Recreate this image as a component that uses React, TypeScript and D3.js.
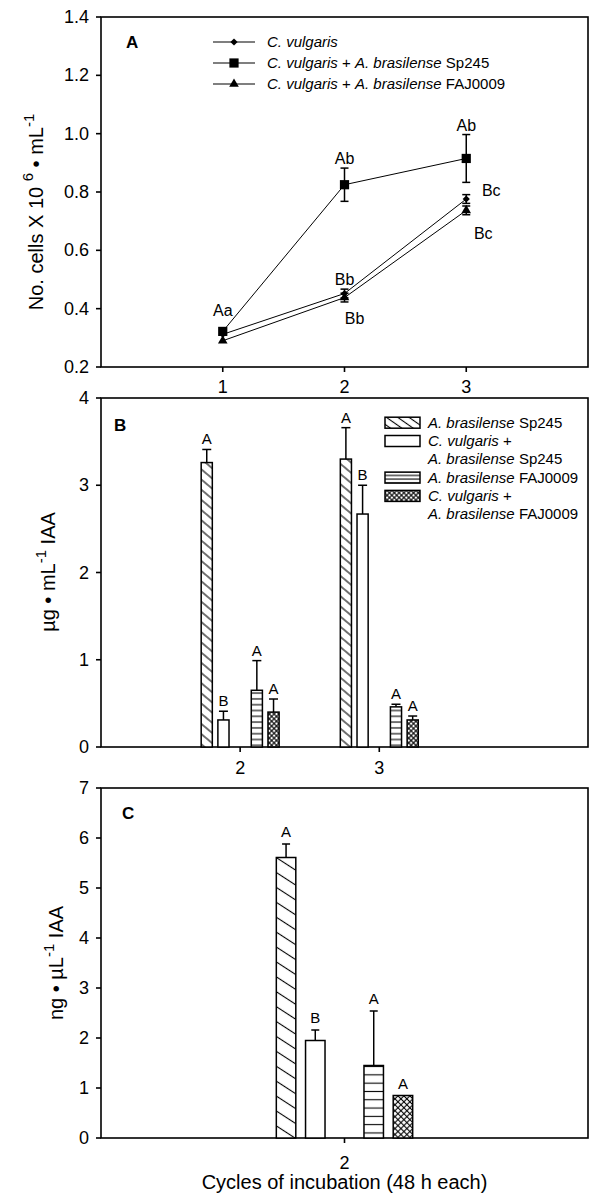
import React from "react";
import * as d3 from "d3";

// ---------- Data ----------
const cyclesA = [1, 2, 3];
const cVulgaris = [0.312, 0.452, 0.776];
const cVulgarisErr = [0.01, 0.015, 0.015];
const cvSp245 = [0.322, 0.825, 0.915];
const cvSp245Err = [0.01, 0.057, 0.082];
const cvFaj = [0.29, 0.438, 0.737];
const cvFajErr = [0.01, 0.015, 0.015];
const legendA = [
  { sp: "C. vulgaris", rest: "" },
  { sp: "C. vulgaris", rest: "Sp245" },
  { sp: "C. vulgaris", rest: "FAJ0009" },
];

const cyclesB = [2, 3];
const spAloneB = [3.26, 3.3];
const spAloneBErr = [0.15, 0.36];
const cvSpB = [0.31, 2.67];
const cvSpBErr = [0.1, 0.33];
const fajAloneB = [0.65, 0.46];
const fajAloneBErr = [0.34, 0.03];
const cvFajB = [0.4, 0.31];
const cvFajBErr = [0.15, 0.045];
const lettersB = [
  ["A", "B", "A", "A"],
  ["A", "B", "A", "A"],
];

const cyclesC = [2];
const valuesC = [5.61, 1.95, 1.45, 0.85];
const errC = [0.27, 0.21, 1.09, 0];
const lettersC = ["A", "B", "A", "A"];

const ticksA = [0.2, 0.4, 0.6, 0.8, 1.0, 1.2, 1.4];
const ticksB = [0, 1, 2, 3, 4];
const ticksC = [0, 1, 2, 3, 4, 5, 6, 7];

const FONT = "'Liberation Sans', Arial, Helvetica, sans-serif";

// ---------- Scales ----------
const L = 101, R = 588;
const xA = d3.scaleLinear().domain([0, 4]).range([L, R]);
const yA = d3.scaleLinear().domain([0.2, 1.4]).range([367, 17]);
const xB = d3.scaleLinear().domain([1, 4.5]).range([L, R]);
const yB = d3.scaleLinear().domain([0, 4]).range([747, 398]);
const xC = d3.scaleLinear().domain([1, 3]).range([L, R]);
const yC = d3.scaleLinear().domain([0, 7]).range([1138, 788]);

const slotOffsets = [-2, -1, 1, 2];
const SLOT = 0.12;
const BARW = 0.08;

const patB = ["diagB", "white", "horizB", "crossB"];
const patC = ["diagC", "white", "horizC", "crossC"];

function Frame({ y, ticks, fmt, xs, xt, tickY }: any) {
  const [y0, y1] = y.range();
  return (
    <g>
      <rect x={L} y={y1} width={R - L} height={y0 - y1} fill="none" stroke="#000" strokeWidth={1.6} />
      {ticks.map((t: number) => (
        <g key={t}>
          <line x1={L - 5} x2={L} y1={y(t)} y2={y(t)} stroke="#000" strokeWidth={1.6} />
          <text x={L - 12} y={y(t) + 6} textAnchor="end" fontSize={18} fontFamily={FONT}>
            {fmt(t)}
          </text>
        </g>
      ))}
      {xt.map((t: number) => (
        <g key={"x" + t}>
          <line x1={xs(t)} x2={xs(t)} y1={y0} y2={y0 + 5} stroke="#000" strokeWidth={1.6} />
          <text x={xs(t)} y={y0 + tickY} textAnchor="middle" fontSize={18} fontFamily={FONT}>
            {t}
          </text>
        </g>
      ))}
    </g>
  );
}

const sym = {
  diamond: d3.symbol().type(d3.symbolSquare).size(26)(),
  square: d3.symbol().type(d3.symbolSquare).size(85)(),
  triangle: d3.symbol().type(d3.symbolTriangle).size(40)(),
};

function PanelA() {
  const series = [
    { v: cVulgaris, e: cVulgarisErr, s: "diamond" },
    { v: cvSp245, e: cvSp245Err, s: "square" },
    { v: cvFaj, e: cvFajErr, s: "triangle" },
  ];
  const line = d3.line<number>().x((_, i) => xA(cyclesA[i])).y((d) => yA(d));
  const ann = [
    { t: "Aa", i: 0, v: cvSp245, dx: 0, dy: -15 },
    { t: "Ab", i: 1, v: cvSp245, dx: 0, dy: -21 },
    { t: "Ab", i: 2, v: cvSp245, dx: 0, dy: -27 },
    { t: "Bb", i: 1, v: cVulgaris, dx: 0, dy: -9 },
    { t: "Bb", i: 1, v: cvFaj, dx: 10, dy: 26 },
    { t: "Bc", i: 2, v: cVulgaris, dx: 25, dy: -3 },
    { t: "Bc", i: 2, v: cvFaj, dx: 17, dy: 29 },
  ];
  return (
    <g>
      <Frame y={yA} ticks={ticksA} fmt={d3.format(".1f")} xs={xA} xt={cyclesA} tickY={26} />
      {series.map((s, k) => (
        <g key={k}>
          <path d={line(s.v) || ""} fill="none" stroke="#000" strokeWidth={1} />
          {s.v.map((v, i) => (
            <g key={i}>
              {s.e[i] > 0.012 && (
                <g stroke="#000" strokeWidth={1.5}>
                  <line x1={xA(cyclesA[i])} x2={xA(cyclesA[i])} y1={yA(v - s.e[i])} y2={yA(v + s.e[i])} />
                  <line x1={xA(cyclesA[i]) - 4} x2={xA(cyclesA[i]) + 4} y1={yA(v - s.e[i])} y2={yA(v - s.e[i])} />
                  <line x1={xA(cyclesA[i]) - 4} x2={xA(cyclesA[i]) + 4} y1={yA(v + s.e[i])} y2={yA(v + s.e[i])} />
                </g>
              )}
              <path
                d={(sym as any)[s.s]}
                transform={`translate(${xA(cyclesA[i])},${yA(v)})${s.s === "diamond" ? " rotate(45)" : ""}`}
                fill="#000"
              />
            </g>
          ))}
        </g>
      ))}
      {ann.map((a, k) => (
        <text key={k} x={xA(cyclesA[a.i]) + a.dx} y={yA(a.v[a.i]) + a.dy} textAnchor="middle" fontSize={16} fontFamily={FONT}>
          {a.t}
        </text>
      ))}
      <text x={126} y={48} fontSize={17} fontWeight="bold" fontFamily={FONT}>A</text>
      {legendA.map((l, k) => {
        const cy = 42 + k * 21;
        const s = ["diamond", "square", "triangle"][k];
        return (
          <g key={k}>
            <line x1={213} x2={255} y1={cy} y2={cy} stroke="#000" strokeWidth={1.2} />
            <path d={(sym as any)[s]} transform={`translate(234,${cy})${s === "diamond" ? " rotate(45)" : ""}`} fill="#000" />
            <text x={267} y={cy + 5} fontSize={15} fontFamily={FONT}>
              <tspan fontStyle="italic">{l.sp}</tspan>
              {l.rest && (
                <>
                  <tspan> + </tspan>
                  <tspan fontStyle="italic">A. brasilense</tspan>
                  <tspan> {l.rest}</tspan>
                </>
              )}
            </text>
          </g>
        );
      })}
      <text transform="translate(43,212) rotate(-90)" textAnchor="middle" fontSize={20} fontFamily={FONT}>
        No. cells X 10 <tspan fontSize={15} dy={-10}>6</tspan>
        <tspan dy={10}> • mL</tspan>
        <tspan fontSize={15} dy={-9}>-1</tspan>
      </text>
    </g>
  );
}

function Bars({ xs, ys, groups, vals, errs, letters, pats, capW, ldy }: any) {
  const bw = xs(1 + BARW) - xs(1);
  return (
    <g>
      {groups.map((g: number, gi: number) =>
        vals.map((series: number[], si: number) => {
          const v = series[gi];
          const e = errs[si][gi];
          const cx = xs(g + slotOffsets[si] * SLOT);
          const top = ys(v + e);
          return (
            <g key={gi + "-" + si}>
              {e > 0 && (
                <g stroke="#000" strokeWidth={1.5}>
                  <line x1={cx} x2={cx} y1={ys(v)} y2={top} />
                  <line x1={cx - capW / 2} x2={cx + capW / 2} y1={top} y2={top} />
                </g>
              )}
              <rect
                x={cx - bw / 2}
                y={ys(v)}
                width={bw}
                height={ys(0) - ys(v)}
                fill={pats[si] === "white" ? "#fff" : `url(#${pats[si]})`}
                stroke="#000"
                strokeWidth={1.5}
              />
              <text x={cx} y={top - ldy} textAnchor="middle" fontSize={15} fontFamily={FONT}>
                {letters[gi][si]}
              </text>
            </g>
          );
        })
      )}
    </g>
  );
}

function PanelB() {
  const items = [
    { p: "diagL", lines: [["A. brasilense", " Sp245"]] },
    { p: "white", lines: [["C. vulgaris", " +"], ["A. brasilense", " Sp245"]] },
    { p: "horizL", lines: [["A. brasilense", " FAJ0009"]] },
    { p: "crossB", lines: [["C. vulgaris", " +"], ["A. brasilense", " FAJ0009"]] },
  ];
  let row = 0;
  return (
    <g>
      <Frame y={yB} ticks={ticksB} fmt={(d: number) => d} xs={xB} xt={cyclesB} tickY={27} />
      <Bars
        xs={xB}
        ys={yB}
        groups={cyclesB}
        vals={[spAloneB, cvSpB, fajAloneB, cvFajB]}
        errs={[spAloneBErr, cvSpBErr, fajAloneBErr, cvFajBErr]}
        letters={lettersB}
        pats={patB}
        capW={9}
        ldy={5}
      />
      <text x={114} y={431} fontSize={17} fontWeight="bold" fontFamily={FONT}>B</text>
      {items.map((it, k) => {
        const cy = 422.7 + row * 18.3;
        const g = (
          <g key={k}>
            <rect x={385} y={cy - 5.5} width={35} height={11} fill={it.p === "white" ? "#fff" : `url(#${it.p})`} stroke="#000" strokeWidth={1.5} />
            {it.lines.map((ln, j) => (
              <text key={j} x={428} y={cy + j * 18.3 + 5} fontSize={15} fontFamily={FONT}>
                <tspan fontStyle="italic">{ln[0]}</tspan>
                <tspan>{ln[1]}</tspan>
              </text>
            ))}
          </g>
        );
        row += it.lines.length;
        return g;
      })}
      <text transform="translate(55,572) rotate(-90)" textAnchor="middle" fontSize={20} fontFamily={FONT}>
        µg • mL<tspan fontSize={15} dy={-9}>-1</tspan>
        <tspan dy={9}> IAA</tspan>
      </text>
    </g>
  );
}

function PanelC() {
  return (
    <g>
      <Frame y={yC} ticks={ticksC} fmt={(d: number) => d} xs={xC} xt={cyclesC} tickY={31} />
      <Bars
        xs={xC}
        ys={yC}
        groups={cyclesC}
        vals={valuesC.map((v) => [v])}
        errs={errC.map((e) => [e])}
        letters={[lettersC]}
        pats={patC}
        capW={8}
        ldy={7}
      />
      <text x={122} y={819} fontSize={17} fontWeight="bold" fontFamily={FONT}>C</text>
      <text transform="translate(63,963) rotate(-90)" textAnchor="middle" fontSize={20} fontFamily={FONT}>
        ng • µL<tspan fontSize={15} dy={-9}>-1</tspan>
        <tspan dy={9}> IAA</tspan>
      </text>
      <text x={(L + R) / 2} y={1189} textAnchor="middle" fontSize={20} fontFamily={FONT}>
        Cycles of incubation (48 h each)
      </text>
    </g>
  );
}

function Hatch({ id, h, angle, cross }: any) {
  return (
    <pattern id={id} patternUnits="userSpaceOnUse" width={h} height={h} patternTransform={`rotate(${angle})`}>
      <rect width={h} height={h} fill="#fff" />
      <line x1={0} x2={h} y1={h / 2} y2={h / 2} stroke="#000" strokeWidth={1.1} />
      {cross && <line y1={0} y2={h} x1={h / 2} x2={h / 2} stroke="#000" strokeWidth={1.1} />}
    </pattern>
  );
}

export default function App() {
  return (
    <div style={{ position: "absolute", left: 0, top: 0 }}>
      <svg width={590} height={1194} style={{ display: "block", background: "#fff" }}>
        <defs>
          <Hatch id="diagB" h={7.8} angle={40} />
          <Hatch id="diagC" h={12.5} angle={33} />
          <Hatch id="diagL" h={6.5} angle={35} />
          <Hatch id="horizB" h={5.8} angle={0} />
          <Hatch id="horizC" h={8.3} angle={0} />
          <Hatch id="horizL" h={3.7} angle={0} />
          <Hatch id="crossB" h={3.4} angle={45} cross />
          <Hatch id="crossC" h={4.2} angle={45} cross />
        </defs>
        <PanelA />
        <PanelB />
        <PanelC />
      </svg>
    </div>
  );
}
